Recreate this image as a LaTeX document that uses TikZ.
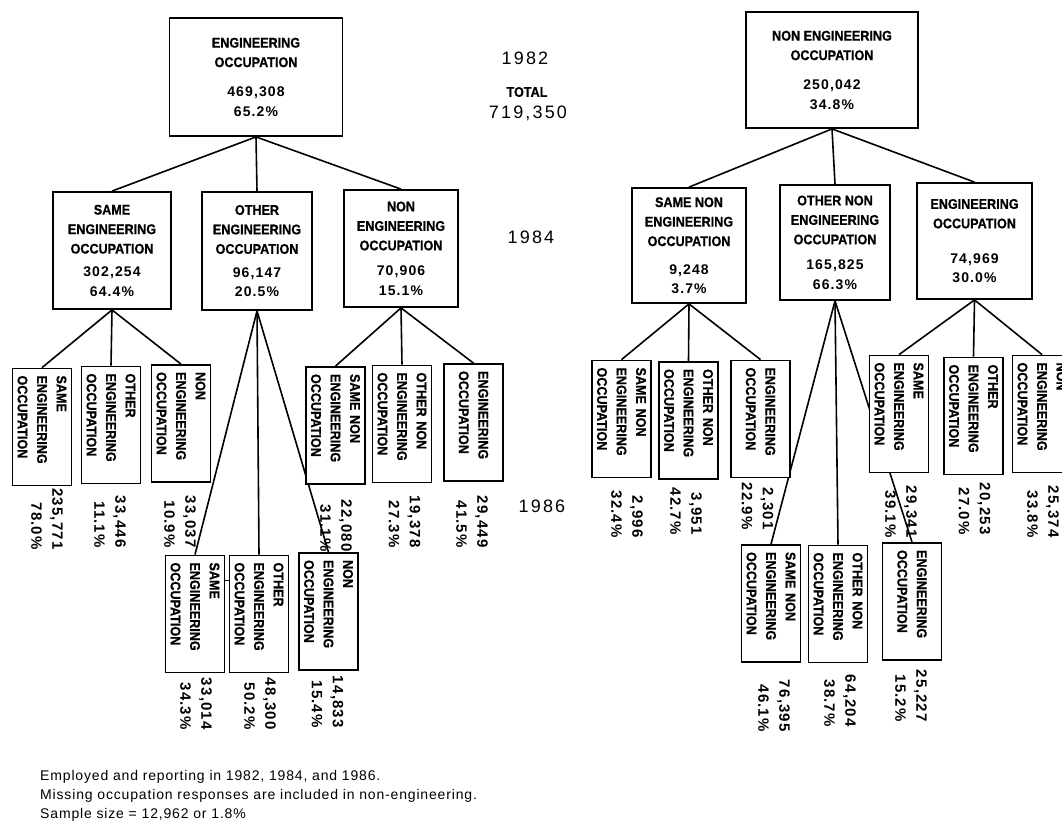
\documentclass[tikz,border=0pt]{standalone}
\usepackage{fontspec}
\setmainfont{Liberation Sans}
\newfontfamily\bxf{Liberation Sans}[FakeStretch=0.9, FakeBold=0.8]
\newfontfamily\nmf{Liberation Sans}[LetterSpace=8]
\newfontfamily\yrf{Liberation Sans}[LetterSpace=12]
\newfontfamily\ftf{Liberation Sans}[LetterSpace=6]
\usetikzlibrary{calc}
\pgfdeclarelayer{bg}
\pgfsetlayers{bg,main}
\newcommand{\bxtxt}{\bxf\bfseries\fontsize{14}{19.5}\selectfont}
\newcommand{\nm}{\nmf\bfseries}
\newcommand{\lbtxt}{\nmf\bfseries\fontsize{15}{21}\selectfont}
\begin{document}
\begin{tikzpicture}[x=1pt,y=-1pt,
  hbox/.style={draw, line width=1.8pt, fill=white, inner sep=0pt, align=center, font=\bxtxt},
  vbox/.style={draw, line width=1.8pt, fill=white, rotate=-90, inner xsep=7pt, inner ysep=0pt,
     align=left, text width=103pt, minimum width=117pt, minimum height=59pt, font=\bxtxt},
  lab/.style={rotate=-90, anchor=east, align=right, inner sep=0pt, font=\lbtxt},
  conn/.style={line width=1.6pt},
  yr/.style={font=\yrf\fontsize{18}{20}\selectfont, inner sep=0pt},
  foot/.style={anchor=west, inner sep=0pt, font=\ftf\fontsize{14}{16}\selectfont}]
\useasboundingbox (0,0) rectangle (1062,823);
\begin{pgfonlayer}{bg}
\fill[white] (0,0) rectangle (1062,823);
\end{pgfonlayer}
\clip (0,0) rectangle (1062,823);

% ---------- left tree ----------
\node[hbox, minimum width=173, minimum height=118] (R) at (256,77)
  {ENGINEERING\\OCCUPATION\\[10pt]{\nm 469,308}\\{\nm 65.2\%}};
\node[hbox, minimum width=118, minimum height=117] (L1) at (112,250.5)
  {SAME\\ENGINEERING\\OCCUPATION\\[3.5pt]{\nm 302,254}\\{\nm 64.4\%}};
\node[hbox, minimum width=110, minimum height=118] (L2) at (257,251)
  {OTHER\\ENGINEERING\\OCCUPATION\\[4pt]{\nm 96,147}\\{\nm 20.5\%}};
\node[hbox, minimum width=114, minimum height=117] (L3) at (401,248.5)
  {NON\\ENGINEERING\\OCCUPATION\\[6pt]{\nm 70,906}\\{\nm 15.1\%}};

\node[vbox] (LL1) at (42,427) {SAME\\ENGINEERING\\OCCUPATION};
\node[vbox] (LL2) at (111,425) {OTHER\\ENGINEERING\\OCCUPATION};
\node[vbox] (LL3) at (181,423.5) {NON\\ENGINEERING\\OCCUPATION};
\node[vbox] (LR1) at (335.5,425.5) {SAME NON\\ENGINEERING\\OCCUPATION};
\node[vbox] (LR2) at (402,424) {OTHER NON\\ENGINEERING\\OCCUPATION};
\node[vbox] (LR3) at (473.5,422.5) {ENGINEERING\\OCCUPATION};
\node[vbox] (LLL1) at (195,614) {SAME\\ENGINEERING\\OCCUPATION};
\node[vbox] (LLL2) at (259,614) {OTHER\\ENGINEERING\\OCCUPATION};
\node[vbox] (LLL3) at (328.5,611.5) {NON\\ENGINEERING\\OCCUPATION};

\node[lab] (nLL1) at (47,550) {235,771\\78.0\%};
\node[lab] (nLL2) at (110,548) {33,446\\11.1\%};
\node[lab] (nLL3) at (180,548) {33,037\\10.9\%};
\node[lab] (nLR1) at (336,552) {22,080\\31.1\%};
\node[lab] (nLR2) at (404.5,548) {19,378\\27.3\%};
\node[lab] (nLR3) at (472,548) {29,449\\41.5\%};
\node[lab] (nLLL1) at (196,730) {33,014\\34.3\%};
\node[lab] (nLLL2) at (260,730) {48,300\\50.2\%};
\node[lab] (nLLL3) at (327.5,728) {14,833\\15.4\%};

% ---------- year column ----------
\node[yr] (y82) at (525,58) {1982};
\node[font=\bxtxt, inner sep=0pt] (tot) at (527,92) {TOTAL};
\node[yr] (totn) at (528,113) {719,350};
\node[yr] (y84) at (531,237) {1984};
\node[yr] (y86) at (542,506) {1986};

% ---------- right tree ----------
\node[hbox, minimum width=172, minimum height=116] (RR) at (832,70)
  {NON ENGINEERING\\OCCUPATION\\[10pt]{\nm 250,042}\\{\nm 34.8\%}};
\node[hbox, minimum width=114, minimum height=115] (R1) at (689,245.5)
  {SAME NON\\ENGINEERING\\OCCUPATION\\[8.5pt]{\nm 9,248}\\{\nm 3.7\%}};
\node[hbox, minimum width=110, minimum height=115] (R2) at (835,242.5)
  {OTHER NON\\ENGINEERING\\OCCUPATION\\[6pt]{\nm 165,825}\\{\nm 66.3\%}};
\node[hbox, minimum width=115, minimum height=116] (R3) at (974.5,241)
  {ENGINEERING\\OCCUPATION\\[15.5pt]{\nm 74,969}\\{\nm 30.0\%}};

\node[vbox] (RL1) at (621.5,419) {SAME NON\\ENGINEERING\\OCCUPATION};
\node[vbox] (RL2) at (688.5,420.5) {OTHER NON\\ENGINEERING\\OCCUPATION};
\node[vbox] (RL3) at (760.5,419) {ENGINEERING\\OCCUPATION};
\node[vbox] (RR1) at (899,414) {SAME\\ENGINEERING\\OCCUPATION};
\node[vbox] (RR2) at (973.5,416) {OTHER\\ENGINEERING\\OCCUPATION};
\node[vbox] (RR3) at (1042,414) {NON\\ENGINEERING\\OCCUPATION};
\node[vbox] (RLL1) at (771,603.5) {SAME NON\\ENGINEERING\\OCCUPATION};
\node[vbox] (RLL2) at (838,604) {OTHER NON\\ENGINEERING\\OCCUPATION};
\node[vbox] (RLL3) at (912,601.5) {ENGINEERING\\OCCUPATION};

\node[lab] (nRL1) at (627,538) {2,996\\32.4\%};
\node[lab] (nRL2) at (686,535) {3,951\\42.7\%};
\node[lab] (nRL3) at (757.5,530) {2,301\\22.9\%};
\node[lab] (nRR1) at (901,538) {29,341\\39.1\%};
\node[lab] (nRR2) at (974.5,535) {20,253\\27.0\%};
\node[lab] (nRR3) at (1043,538) {25,374\\33.8\%};
\node[lab] (nRLL1) at (774,732) {76,395\\46.1\%};
\node[lab] (nRLL2) at (840,727) {64,204\\38.7\%};
\node[lab] (nRLL3) at (911,722) {25,227\\15.2\%};

% ---------- footnote ----------
\node[foot] (f1) at (40,777) {Employed and reporting in 1982, 1984, and 1986.};
\node[foot] (f2) at (40,796) {Missing occupation responses are included in non-engineering.};
\node[foot] (f3) at (40,815) {Sample size = 12,962 or 1.8\%};

% ---------- connectors ----------
\begin{pgfonlayer}{bg}
\foreach \c in {L1,L2,L3} \draw[conn] (R.south) -- (\c.north);
\foreach \c in {LL1,LL2,LL3} \draw[conn] (L1.south) -- (\c.west);
\foreach \c in {LLL1,LLL2,LLL3} \draw[conn] (L2.south) -- (\c.west);
\foreach \c in {LR1,LR2,LR3} \draw[conn] (L3.south) -- (\c.west);
\foreach \c in {R1,R2,R3} \draw[conn] (RR.south) -- (\c.north);
\foreach \c in {RL1,RL2,RL3} \draw[conn] (R1.south) -- (\c.west);
\foreach \c in {RLL1,RLL2,RLL3} \draw[conn] (R2.south) -- (\c.west);
\foreach \c in {RR1,RR2,RR3} \draw[conn] (R3.south) -- (\c.west);
\draw[line width=1pt] ($(LLL1.north west)!0.22!(LLL1.north east)$) -- ($(LLL2.south west)!0.22!(LLL2.south east)$);
\end{pgfonlayer}
\end{tikzpicture}
\end{document}
